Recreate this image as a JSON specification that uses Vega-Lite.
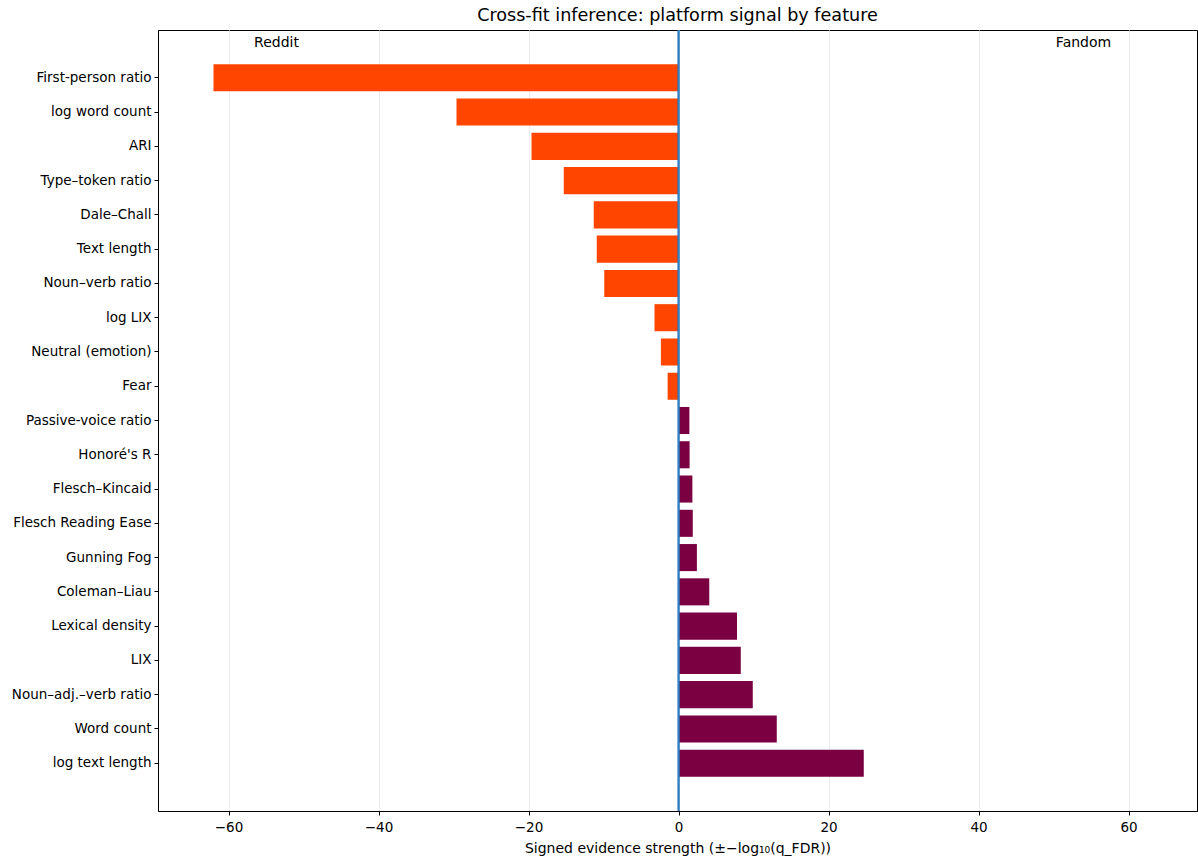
{
  "$schema": "https://vega.github.io/schema/vega-lite/v6.json",
  "autosize": "none",
  "width": 1039,
  "height": 781,
  "padding": {"left": 158, "top": 30, "right": 1, "bottom": 48},
  "background": "white",
  "config": {
    "font": "DejaVu Sans",
    "view": {"stroke": "black", "strokeWidth": 1},
    "axis": {"labelFont": "DejaVu Sans", "titleFont": "DejaVu Sans", "labelColor": "black", "titleColor": "black", "domainColor": "black", "tickColor": "black", "labelFontSize": 13.5, "titleFontSize": 14, "titleFontWeight": "normal", "tickSize": 4}
  },
  "title": {"text": "Cross-fit inference: platform signal by feature", "fontSize": 17.6, "fontWeight": "normal", "font": "DejaVu Sans", "color": "black", "offset": 5},
  "data": {
    "values": [
      {"feature": "First-person ratio", "value": -62.0, "platform": "Reddit"},
      {"feature": "log word count", "value": -29.6, "platform": "Reddit"},
      {"feature": "ARI", "value": -19.6, "platform": "Reddit"},
      {"feature": "Type–token ratio", "value": -15.3, "platform": "Reddit"},
      {"feature": "Dale–Chall", "value": -11.3, "platform": "Reddit"},
      {"feature": "Text length", "value": -10.9, "platform": "Reddit"},
      {"feature": "Noun–verb ratio", "value": -9.9, "platform": "Reddit"},
      {"feature": "log LIX", "value": -3.2, "platform": "Reddit"},
      {"feature": "Neutral (emotion)", "value": -2.35, "platform": "Reddit"},
      {"feature": "Fear", "value": -1.45, "platform": "Reddit"},
      {"feature": "Passive-voice ratio", "value": 1.45, "platform": "Fandom"},
      {"feature": "Honoré's R", "value": 1.48, "platform": "Fandom"},
      {"feature": "Flesch–Kincaid", "value": 1.85, "platform": "Fandom"},
      {"feature": "Flesch Reading Ease", "value": 1.9, "platform": "Fandom"},
      {"feature": "Gunning Fog", "value": 2.45, "platform": "Fandom"},
      {"feature": "Coleman–Liau", "value": 4.1, "platform": "Fandom"},
      {"feature": "Lexical density", "value": 7.8, "platform": "Fandom"},
      {"feature": "LIX", "value": 8.3, "platform": "Fandom"},
      {"feature": "Noun–adj.–verb ratio", "value": 9.9, "platform": "Fandom"},
      {"feature": "Word count", "value": 13.1, "platform": "Fandom"},
      {"feature": "log text length", "value": 24.7, "platform": "Fandom"}
    ]
  },
  "layer": [
    {
      "mark": {"type": "bar"},
      "encoding": {
        "y": {"field": "feature", "type": "nominal", "sort": null, "title": null,
              "scale": {"paddingInner": 0.21, "paddingOuter": 1.035},
              "axis": {"grid": false, "labelPadding": 3}},
        "x": {"field": "value", "type": "quantitative",
              "scale": {"domain": [-69.4, 69.13], "nice": false, "zero": false},
              "title": "Signed evidence strength (±−log₁₀(q_FDR))",
              "axis": {"values": [-60, -40, -20, 0, 20, 40, 60], "format": "d", "labelExpr": "replace(datum.label, '-', '−')", "grid": true, "gridColor": "#ebebeb", "gridWidth": 1, "labelPadding": 5, "titlePadding": 8}},
        "color": {"field": "platform", "type": "nominal", "scale": {"domain": ["Reddit", "Fandom"], "range": ["#ff4500", "#7a0042"]}, "legend": null}
      }
    },
    {
      "mark": {"type": "rule", "color": "#2f80c0", "strokeWidth": 1.1},
      "encoding": {"x": {"datum": 0}}
    },
    {
      "data": {"values": [{"label": "Reddit", "x": -53.6, "anchor": "First-person ratio"}, {"label": "Fandom", "x": 54, "anchor": "First-person ratio"}]},
      "mark": {"type": "text", "fontSize": 14, "color": "black", "dy": -35, "align": "center", "baseline": "middle"},
      "encoding": {
        "x": {"field": "x", "type": "quantitative"},
        "y": {"field": "anchor", "type": "nominal", "sort": null},
        "text": {"field": "label"}
      }
    }
  ]
}
